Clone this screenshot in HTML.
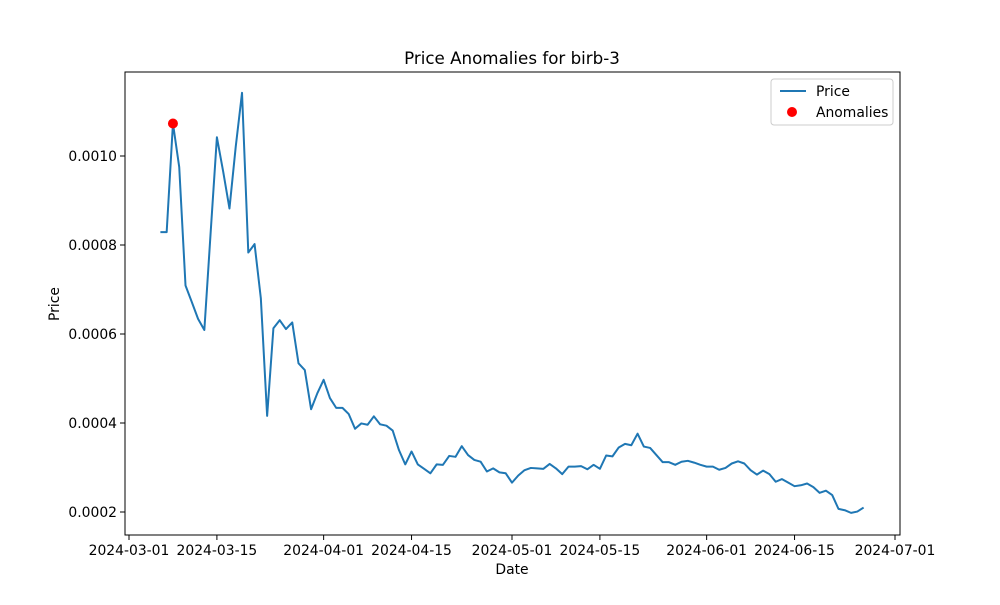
<!DOCTYPE html>
<html><head><meta charset="utf-8"><style>
body{margin:0;background:#fff}
svg text{font-family:"DejaVu Sans","Liberation Sans",sans-serif;fill:#000}
</style></head><body>
<svg id="chart" width="1000" height="600">
<rect width="1000" height="600" fill="#fff"/>
<text x="512" y="64" font-size="16.7" text-anchor="middle">Price Anomalies for birb-3</text>
<g id="axes"></g>
<g id="marks"></g>
<rect x="125" y="72" width="775" height="463" fill="none" stroke="#000" stroke-width="1"/>
<text x="512" y="574" font-size="13.9" text-anchor="middle">Date</text>
<text x="59" y="304" font-size="13.9" text-anchor="middle" transform="rotate(-90 59 304)">Price</text>
<g>
<rect x="771" y="79" width="122" height="46" fill="#fff" stroke="#ccc" rx="3"/>
<line x1="780" y1="91" x2="806" y2="91" stroke="#1f77b4" stroke-width="2"/>
<text x="816" y="96" font-size="13.9">Price</text>
<circle cx="792" cy="112" r="5" fill="red"/>
<text x="816" y="117" font-size="13.9">Anomalies</text>
</g>
</svg>
<script>
const startDay = 5; // 2024-03-06 = day 5 after Mar 1
const prices = [8.29,8.29,10.73,9.75,7.09,6.72,6.34,6.09,8.27,10.42,9.65,8.82,10.21,11.42,7.83,8.02,6.80,4.16,6.13,6.31,6.11,6.26,5.34,5.19,4.31,4.67,4.97,4.56,
4.34,4.34,4.20,3.87,3.99,3.96,4.15,3.97,3.94,3.83,3.39,3.07,3.36,3.07,2.97,2.87,3.07,3.06,3.26,3.24,3.48,3.28,3.17,3.13,2.91,2.98,2.89,2.87,2.66,2.82,2.94,2.99,2.98,2.97,3.08,2.98,2.85,3.02,3.02,3.03,2.96,3.06,2.97,
3.27,3.25,3.45,3.53,3.50,3.76,3.47,3.44,3.28,3.12,3.12,3.06,3.13,3.15,3.11,3.06,3.02,3.02,2.95,2.99,3.09,3.14,3.09,2.94,2.84,2.93,2.85,2.68,2.74,2.66,2.58,2.60,2.64,2.56,2.43,2.48,2.38,2.07,2.04,1.98,2.01,2.10].map(v=>v*1e-4);
const anomalyIdx = [2];
const xTickLabels = ["2024-03-01","2024-03-15","2024-04-01","2024-04-15","2024-05-01","2024-05-15","2024-06-01","2024-06-15","2024-07-01"];
const xTickDays = [0,14,31,45,61,75,92,106,122];
const yTicks = [0.0002,0.0004,0.0006,0.0008,0.0010];
const yTickLabels = ["0.0002","0.0004","0.0006","0.0008","0.0010"];

const NS="http://www.w3.org/2000/svg";
function xS(d){return 129 + d*(766/122);}
function yS(v){return 601 - v*445000;}
function mk(tag,attrs,parent){const e=document.createElementNS(NS,tag);for(const k in attrs)e.setAttribute(k,attrs[k]);parent.appendChild(e);return e;}
const axes=document.getElementById('axes'), marks=document.getElementById('marks');
xTickDays.forEach((d,i)=>{
  const x=xS(d);
  const t=mk('line',{x1:x,x2:x,y1:535,y2:540,stroke:'#000'},axes);
  
  
  const l=mk('text',{x:x,y:555,'font-size':13.9,'text-anchor':'middle'},axes);
  l.textContent=xTickLabels[i];
  
  
});
yTicks.forEach((v,i)=>{
  const y=yS(v);
  const t=mk('line',{x1:120,x2:125,y1:y,y2:y,stroke:'#000'},axes);
  
  
  const l=mk('text',{x:117,y:y+5,'font-size':13.9,'text-anchor':'end'},axes);
  l.textContent=yTickLabels[i];
  
  
});
const pts=prices.map((v,i)=>xS(startDay+i).toFixed(2)+','+yS(v).toFixed(2)).join(' ');
const line=mk('polyline',{points:pts,fill:'none',stroke:'#1f77b4','stroke-width':2,'stroke-linejoin':'round'},marks);


anomalyIdx.forEach(i=>{
  const c=mk('circle',{cx:xS(startDay+i),cy:yS(prices[i]),r:5,fill:'red'},marks);
  
  
});
</script>
</body></html>
